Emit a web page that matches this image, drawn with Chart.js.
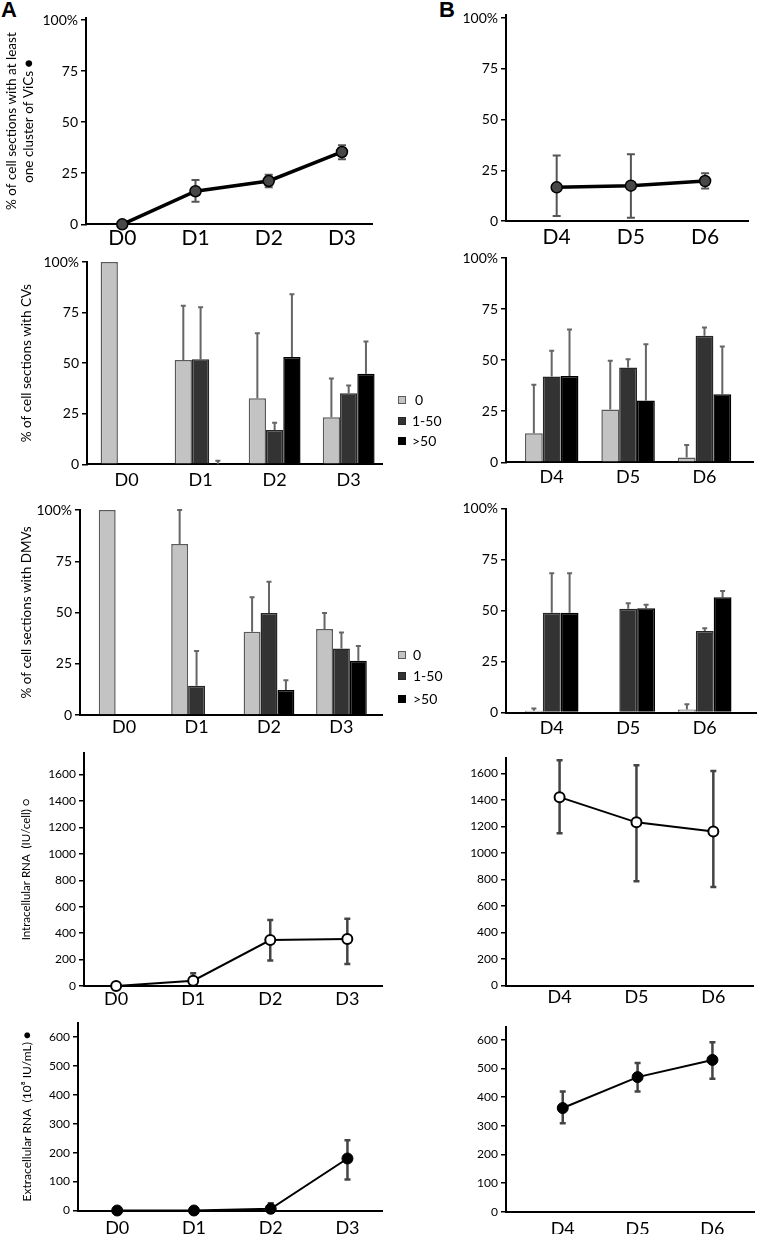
<!DOCTYPE html>
<html>
<head>
<meta charset="utf-8">
<script src="https://cdn.jsdelivr.net/npm/chart.js@4.4.0/dist/chart.umd.min.js"></script>
<style>
  body { margin: 0; background: #fff; width: 761px; height: 1234px; overflow: hidden; position: relative; }
  canvas { position: absolute; }
  .tag { position: absolute; font: bold 22px "Liberation Sans", Arial, sans-serif; color: #000; }
</style>
</head>
<body>
<div class="tag" style="left:1px;top:-3px">A</div>
<div class="tag" style="left:439px;top:-3px">B</div>
<script>
// --- categories / ticks
const daysA = ['D0', 'D1', 'D2', 'D3'];
const daysB = ['D4', 'D5', 'D6'];
const sizeClasses = ['0', '1-50', '>50'];
const pctTicks = [0, 25, 50, 75, 100];
const intraTicks = [0, 200, 400, 600, 800, 1000, 1200, 1400, 1600];
const extraTicks = [0, 100, 200, 300, 400, 500, 600];

// --- % of cell sections with at least one cluster of ViCs
const vicsA = [0, 16.2, 21.2, 35.4];
const vicsAHi = [null, 21.7, 24.3, 38.7];
const vicsALo = [null, 11.1, 18.1, 31.8];
const vicsB = [16.6, 17.4, 19.7];
const vicsBHi = [32.3, 32.9, 23.5];
const vicsBLo = [2.5, 1.6, 16.0];

// --- % of cell sections with CVs (classes 0 / 1-50 / >50)
const cvA0 = [100, 51.6, 32.7, 23.3];
const cvA1 = [0, 51.9, 17.0, 35.1];
const cvA2 = [0, 0, 53.0, 44.7];
const cvA0Err = [null, 78.4, 64.8, 42.4];
const cvA1Err = [null, 77.6, 20.6, 38.9];
const cvA2Err = [null, 1.8, 84.0, 60.7];
const cvB0 = [14.2, 25.8, 2.4];
const cvB1 = [42.0, 46.4, 62.0];
const cvB2 = [42.2, 30.2, 33.3];
const cvB0Err = [38.0, 49.7, 8.5];
const cvB1Err = [54.6, 50.5, 66.0];
const cvB2Err = [65.0, 57.8, 56.7];

// --- % of cell sections with DMVs
const dmvA0 = [100, 83.4, 40.6, 42.0];
const dmvA1 = [0, 14.3, 49.8, 32.5];
const dmvA2 = [0, 0, 12.2, 26.5];
const dmvA0Err = [null, 100, 57.4, 49.8];
const dmvA1Err = [null, 31.2, 65.0, 40.3];
const dmvA2Err = [null, null, 17.0, 33.6];
const dmvB0 = [0.8, 0, 1.5];
const dmvB1 = [48.9, 50.8, 39.9];
const dmvB2 = [48.9, 51.1, 56.5];
const dmvB0Err = [2.0, null, 4.1];
const dmvB1Err = [68.3, 53.6, 41.3];
const dmvB2Err = [68.3, 52.8, 59.5];

// --- Intracellular RNA (IU/cell)
const intraA = [0, 40, 348, 355];
const intraAHi = [null, 96, 500, 508];
const intraALo = [null, null, 193, 167];
const intraB = [1420, 1230, 1161];
const intraBHi = [1698, 1660, 1617];
const intraBLo = [1148, 786, 743];

// --- Extracellular RNA (10^8 IU/mL)
const extraA = [0, 0, 6, 180];
const extraAHi = [null, null, 25, 243];
const extraALo = [null, null, null, 107];
const extraB = [362, 470, 530];
const extraBHi = [420, 519, 592];
const extraBLo = [309, 420, 464];

const FONT = 'Lato, "Open Sans", sans-serif';
const barStyle = [
  { backgroundColor: '#c3c3c3', borderColor: '#5a5a5a' },
  { backgroundColor: '#333333', borderColor: '#262626' },
  { backgroundColor: '#000000', borderColor: '#000000' }
];

// error bars drawn from the y scale of each chart
const errorBars = {
  id: 'errorBars',
  beforeDatasetsDraw(chart) {
    const ctx = chart.ctx, ys = chart.scales.y;
    chart.data.datasets.forEach((ds, i) => {
      if (!ds.errHi) return;
      const meta = chart.getDatasetMeta(i);
      ctx.save();
      ctx.strokeStyle = ds.errColor || '#555';
      ctx.lineWidth = ds.errWidth || 2;
      meta.data.forEach((el, j) => {
        const base = ys.getPixelForValue(ds.data[j].y);
        const half = (ds.errCap || 6) / 2;
        [ds.errHi[j], ds.errLo ? ds.errLo[j] : null].forEach(e => {
          if (e == null) return;
          const py = ys.getPixelForValue(e);
          ctx.beginPath();
          ctx.moveTo(el.x, base);
          ctx.lineTo(el.x, py);
          ctx.moveTo(el.x - half, py);
          ctx.lineTo(el.x + half, py);
          ctx.stroke();
        });
      });
      ctx.restore();
    });
  }
};

// small legend to the right of the bar panels
const sideLegend = {
  id: 'sideLegend',
  afterDraw(chart, args, opts) {
    if (!opts.rows) return;
    const ctx = chart.ctx;
    ctx.save();
    chart.data.datasets.forEach((ds, i) => {
      const cy = opts.rows[i];
      ctx.fillStyle = ds.backgroundColor;
      ctx.fillRect(opts.x, cy - 4, 8, 8);
      ctx.strokeStyle = ds.borderColor;
      ctx.lineWidth = 1;
      ctx.strokeRect(opts.x + 0.5, cy - 3.5, 7, 7);
      ctx.fillStyle = '#000';
      ctx.font = '14px ' + FONT;
      ctx.textBaseline = 'middle';
      ctx.fillText(ds.label, opts.textX[i], cy);
    });
    ctx.restore();
  }
};

function pts(vals) {
  return vals.map((v, i) => ({ x: i, y: v }));
}

function barSets(series, errs) {
  return sizeClasses.map((name, k) => Object.assign({
    label: name,
    data: pts(series[k]),
    errHi: errs[k],
    errColor: '#666',
    errWidth: 2,
    errCap: 5,
    borderWidth: 1.5,
    borderSkipped: 'bottom',
    categoryPercentage: 0.7,
    barPercentage: 1
  }, barStyle[k]));
}

function lineSet(vals, hi, lo, st) {
  return Object.assign({
    data: pts(vals),
    errHi: hi,
    errLo: lo,
    borderColor: '#000',
    tension: 0,
    clip: false
  }, st);
}

function addPanel(p) {
  const b = p.box, a = p.area;
  const c = document.createElement('canvas');
  c.width = b.w; c.height = b.h;
  c.style.left = b.x + 'px';
  c.style.top = b.y + 'px';
  document.body.appendChild(c);
  const labels = p.labels;
  return new Chart(c, {
    type: p.type,
    data: { datasets: p.datasets },
    options: {
      responsive: false,
      animation: false,
      devicePixelRatio: 1,
      layout: { padding: { left: 0, top: a.t - b.y, right: b.x + b.w - a.r, bottom: 0 } },
      plugins: { legend: { display: false }, tooltip: { enabled: false }, sideLegend: p.legend || {} },
      scales: {
        x: {
          type: 'linear',
          min: p.xMin, max: p.xMax,
          offset: false,
          grid: { display: false, drawTicks: false },
          border: { display: true, color: '#000', width: 2 },
          afterBuildTicks: s => { s.ticks = labels.map((_, i) => ({ value: i })); },
          ticks: {
            autoSkip: false, maxRotation: 0, color: '#000', padding: p.xPad,
            font: { family: FONT, size: p.xFont },
            callback: v => labels[v]
          },
          afterFit: s => { s.height = b.y + b.h - a.b; s.paddingLeft = 0; s.paddingRight = 0; }
        },
        y: {
          min: 0, max: p.yMax,
          grid: { drawOnChartArea: false, drawTicks: true, tickLength: 5, color: '#000', lineWidth: 1.5 },
          border: { display: true, color: '#000', width: 2 },
          afterBuildTicks: s => { s.ticks = p.yTicks.map(v => ({ value: v })); },
          ticks: {
            autoSkip: false, color: '#000', padding: 3,
            font: { family: FONT, size: p.yFont },
            callback: p.yFmt || (v => v)
          },
          title: p.title ? {
            display: true, text: p.title, color: '#000',
            font: { family: FONT, size: p.titleSize },
            padding: { top: p.titlePad, bottom: 0 }
          } : { display: false },
          afterFit: s => { s.width = a.l - b.x; s.paddingTop = 0; s.paddingBottom = 0; }
        }
      }
    },
    plugins: [errorBars, sideLegend]
  });
}

const pctFmt = v => (v === 100 ? '100%' : v);
const leftBox = (y, h) => ({ x: 0, y: y, w: 450, h: h });
const rightBox = (y, h) => ({ x: 440, y: y, w: 321, h: h });

const vicStyle = { borderWidth: 3.5, pointRadius: 5.5, pointBackgroundColor: '#484848', pointBorderColor: '#000', pointBorderWidth: 1.5, errColor: '#555', errWidth: 2, errCap: 8 };
const intraStyle = { borderWidth: 2, pointRadius: 5, pointBackgroundColor: '#fff', pointBorderColor: '#000', pointBorderWidth: 2, errColor: '#444', errWidth: 2.5, errCap: 6 };
const extraStyle = { borderWidth: 2, pointRadius: 5.5, pointBackgroundColor: '#000', pointBorderColor: '#000', pointBorderWidth: 1, errColor: '#444', errWidth: 2.5, errCap: 6 };

// Row 1: ViCs
addPanel({
  type: 'line', box: leftBox(0, 252), area: { l: 86, t: 18, r: 372, b: 224.3 },
  labels: daysA, xMin: -0.495, xMax: 3.41, xFont: 21, xPad: 1,
  yMax: 101, yTicks: pctTicks, yFmt: pctFmt, yFont: 14,
  title: ['% of cell sections with at least', 'one cluster of ViCs \u25CF'], titleSize: 13.5, titlePad: 4,
  datasets: [lineSet(vicsA, vicsAHi, vicsALo, vicStyle)]
});
addPanel({
  type: 'line', box: rightBox(0, 252), area: { l: 506, t: 15, r: 748, b: 221 },
  labels: daysB, xMin: -0.683, xMax: 2.578, xFont: 21, xPad: 4,
  yMax: 101.5, yTicks: pctTicks, yFmt: pctFmt, yFont: 14,
  datasets: [lineSet(vicsB, vicsBHi, vicsBLo, vicStyle)]
});

// Row 2: CVs
addPanel({
  type: 'bar', box: leftBox(252, 246), area: { l: 87, t: 262, r: 382, b: 464.3 },
  labels: daysA, xMin: -0.534, xMax: 3.45, xFont: 18, xPad: 5,
  yMax: 100, yTicks: pctTicks, yFmt: pctFmt, yFont: 14,
  title: '% of cell sections with CVs', titleSize: 13.5, titlePad: 19,
  legend: { x: 398, rows: [400, 421, 441].map(v => v - 252), textX: [415, 412, 412] },
  datasets: barSets([cvA0, cvA1, cvA2], [cvA0Err, cvA1Err, cvA2Err])
});
addPanel({
  type: 'bar', box: rightBox(252, 246), area: { l: 506, t: 258, r: 753, b: 462.3 },
  labels: daysB, xMin: -0.598, xMax: 2.635, xFont: 18, xPad: 4,
  yMax: 100, yTicks: pctTicks, yFmt: pctFmt, yFont: 14,
  datasets: barSets([cvB0, cvB1, cvB2], [cvB0Err, cvB1Err, cvB2Err])
});

// Row 3: DMVs
addPanel({
  type: 'bar', box: leftBox(498, 247), area: { l: 80, t: 510, r: 382, b: 715 },
  labels: daysA, xMin: -0.609, xMax: 3.56, xFont: 18, xPad: 1,
  yMax: 100, yTicks: pctTicks, yFmt: pctFmt, yFont: 14,
  title: '% of cell sections with DMVs', titleSize: 13.5, titlePad: 19,
  legend: { x: 398, rows: [655, 676, 699].map(v => v - 498), textX: [413, 413, 413] },
  datasets: barSets([dmvA0, dmvA1, dmvA2], [dmvA0Err, dmvA1Err, dmvA2Err])
});
addPanel({
  type: 'bar', box: rightBox(498, 247), area: { l: 506, t: 508.5, r: 756, b: 712.5 },
  labels: daysB, xMin: -0.598, xMax: 2.67, xFont: 18, xPad: 5,
  yMax: 100, yTicks: pctTicks, yFmt: pctFmt, yFont: 14,
  datasets: barSets([dmvB0, dmvB1, dmvB2], [dmvB0Err, dmvB1Err, dmvB2Err])
});

// Row 4: intracellular RNA
addPanel({
  type: 'line', box: leftBox(745, 268), area: { l: 84, t: 753, r: 382, b: 986 },
  labels: daysA, xMin: -0.417, xMax: 3.45, xFont: 18, xPad: 2,
  yMax: 1763, yTicks: intraTicks, yFont: 12,
  title: 'Intracellular RNA  (IU/cell) \u25CB', titleSize: 11.5, titlePad: 19,
  datasets: [lineSet(intraA, intraAHi, intraALo, intraStyle)]
});
addPanel({
  type: 'line', box: rightBox(745, 268), area: { l: 506, t: 758, r: 753, b: 985.5 },
  labels: daysB, xMin: -0.697, xMax: 2.516, xFont: 18, xPad: 1,
  yMax: 1715, yTicks: intraTicks, yFont: 12,
  datasets: [lineSet(intraB, intraBHi, intraBLo, intraStyle)]
});

// Row 5: extracellular RNA
addPanel({
  type: 'line', box: leftBox(1013, 221), area: { l: 78, t: 1022.7, r: 382, b: 1210.5 },
  labels: daysA, xMin: -0.511, xMax: 3.45, xFont: 18, xPad: 7,
  yMax: 650, yTicks: extraTicks, yFont: 12,
  title: 'Extracellular RNA  (10\u2078 IU/mL) \u25CF', titleSize: 12, titlePad: 19.5,
  datasets: [lineSet(extraA, extraAHi, extraALo, extraStyle)]
});
addPanel({
  type: 'line', box: rightBox(1013, 221), area: { l: 506, t: 1027, r: 760, b: 1211.7 },
  labels: daysB, xMin: -0.758, xMax: 2.562, xFont: 18, xPad: 7,
  yMax: 645, yTicks: extraTicks, yFont: 12,
  datasets: [lineSet(extraB, extraBHi, extraBLo, extraStyle)]
});
</script>
</body>
</html>
